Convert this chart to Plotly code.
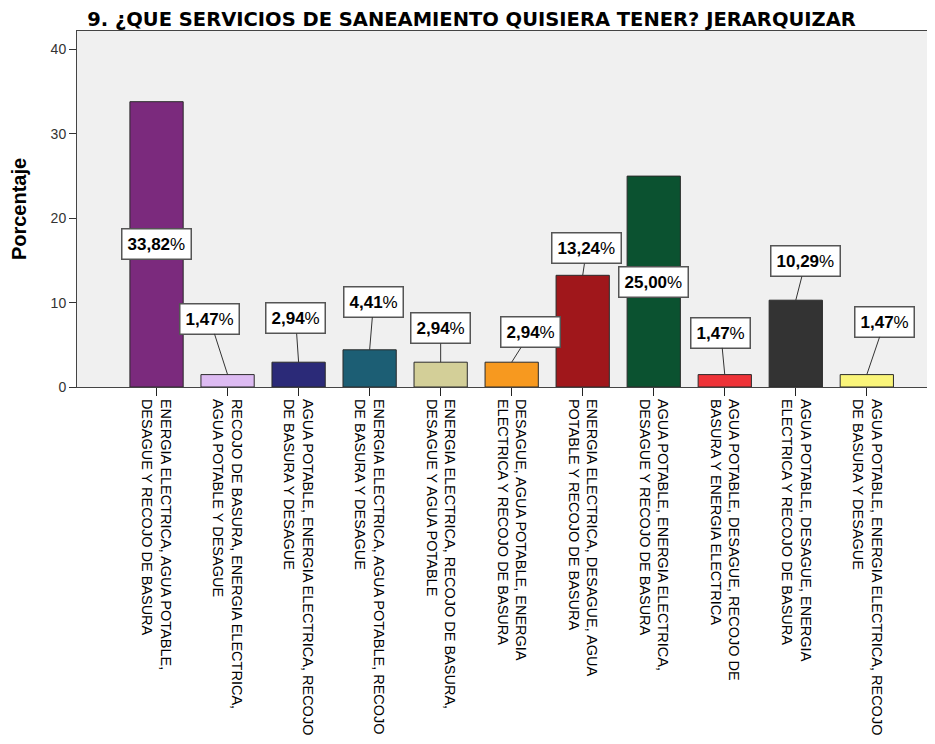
import plotly.graph_objects as go

categories = [
    "ENERGIA ELECTRICA, AGUA POTABLE,<br>DESAGUE Y RECOJO DE BASURA",
    "RECOJO DE BASURA, ENERGIA ELECTRICA,<br>AGUA POTABLE Y DESAGUE",
    "AGUA POTABLE, ENERGIA ELECTRICA, RECOJO<br>DE BASURA Y DESAGUE",
    "ENERGIA ELECTRICA, AGUA POTABLE, RECOJO<br>DE BASURA Y DESAGUE",
    "ENERGIA ELECTRICA, RECOJO DE BASURA,<br>DESAGUE Y AGUA POTABLE",
    "DESAGUE, AGUA POTABLE, ENERGIA<br>ELECTRICA Y RECOJO DE BASURA",
    "ENERGIA ELECTRICA, DESAGUE, AGUA<br>POTABLE Y RECOJO DE BASURA",
    "AGUA POTABLE, ENERGIA ELECTRICA,<br>DESAGUE Y RECOJO DE BASURA",
    "AGUA POTABLE, DESAGUE, RECOJO DE<br>BASURA Y ENERGIA ELECTRICA",
    "AGUA POTABLE, DESAGUE, ENERGIA<br>ELECTRICA Y RECOJO DE BASURA",
    "AGUA POTABLE, ENERGIA ELECTRICA, RECOJO<br>DE BASURA Y DESAGUE",
]
values = [33.82, 1.47, 2.94, 4.41, 2.94, 2.94, 13.24, 25.00, 1.47, 10.29, 1.47]
value_labels = ["33,82", "1,47", "2,94", "4,41", "2,94", "2,94", "13,24", "25,00", "1,47", "10,29", "1,47"]
y_ticks = [0, 10, 20, 30, 40]

bar_colors = ["#7B2A7D", "#DDBBF2", "#2B2A78", "#1C5E74", "#D3CF98", "#F7991F",
              "#A0171B", "#0B5230", "#EE3338", "#333333", "#FAF57A"]
# label box offsets (pixels from bar top); None = label centred inside the bar
label_offsets = [None, (-18, -56), (-3, -44), (4, -48), (0, -34), (19, -30),
                 (4, -27), None, (-4, -42), (10, -39), (18, -53)]

x_pos = list(range(len(categories)))

W, H = 927, 736  # page body has an 8px margin

fig = go.Figure(go.Bar(
    x=x_pos, y=values, width=0.75,
    marker=dict(color=bar_colors, line=dict(color="#2a2a2a", width=1)),
    hoverinfo="skip",
))

for i, (v, lab, off) in enumerate(zip(values, value_labels, label_offsets)):
    common = dict(
        text=f"<b>{lab}</b>%", font=dict(family="Liberation Sans, Arial", size=17, color="black"),
        bgcolor="white", bordercolor="#555555", borderwidth=1.5, borderpad=5,
        xref="x", yref="y",
    )
    if off is None:
        fig.add_annotation(x=i, y=v / 2, showarrow=False, **common)
    else:
        fig.add_annotation(x=i, y=v, showarrow=True, arrowhead=0, arrowwidth=1,
                           arrowcolor="#333333", ax=off[0], ay=off[1], **common)

fig.update_layout(
    width=W, height=H,
    margin=dict(l=69, r=0, t=23, b=357),
    paper_bgcolor="white", plot_bgcolor="#F0F0F0",
    showlegend=False,
    title=dict(text="<b>9. ¿QUE SERVICIOS DE SANEAMIENTO QUISIERA TENER? JERARQUIZAR</b>",
               font=dict(family="DejaVu Sans, Arial", size=19.5, color="black"),
               x=0.5, xref="container", xanchor="center",
               y=1 - 11 / H, yref="container", yanchor="middle"),
    font=dict(family="Liberation Sans, Arial", color="black"),
)
fig.update_xaxes(
    range=[-1.12, 10.96], tickmode="array", tickvals=x_pos, ticktext=categories,
    tickangle=90, tickfont=dict(size=14.5, color="black"),
    ticks="outside", ticklen=8, tickcolor="#222222",
    showline=True, linecolor="#444444", linewidth=1, mirror=True,
    showgrid=False, zeroline=False, automargin=False,
)
fig.update_yaxes(
    range=[0, 42.2], tickvals=y_ticks, tickfont=dict(size=14, color="#333333"),
    ticks="outside", ticklen=7, tickcolor="#333333",
    showline=True, linecolor="#444444", linewidth=1,
    showgrid=False, zeroline=False, automargin=False,
    title=dict(text="<b>Porcentaje</b>", font=dict(size=20, color="black"), standoff=20),
)

fig.write_html("out.html")
